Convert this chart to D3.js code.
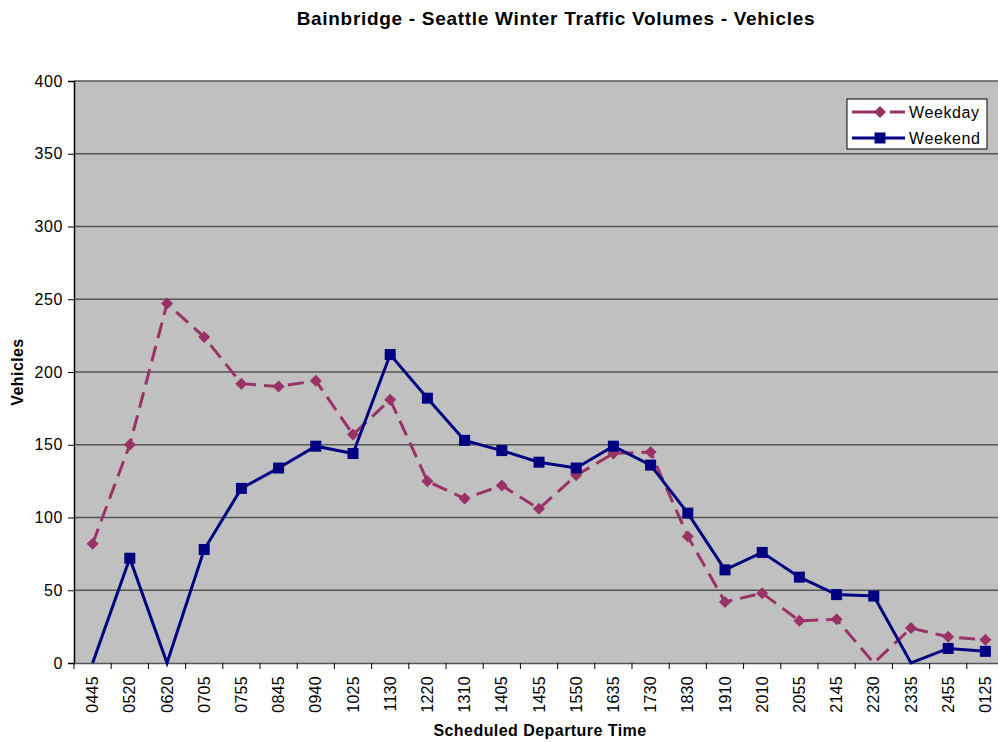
<!DOCTYPE html>
<html lang="en">
<head>
<meta charset="UTF-8">
<title>winter-traffic</title>
<script src="https://cdn.jsdelivr.net/npm/d3@7"></script>
<style>
  body { margin: 0; background: #fff; }
  svg { font-family: "Liberation Sans", Arial, sans-serif; display: block; }
</style>
</head>
<body>
<script>
let times = ['0445', '0520', '0620', '0705', '0755', '0845', '0940', '1025', '1130', '1220',
  '1310', '1405', '1455', '1550', '1635', '1730', '1830', '1910', '2010', '2055',
  '2145', '2230', '2335', '2455', '0125'];
let weekday = [82, 150, 247, 224, 192, 190, 194, 157, 181, 125, 113, 122, 106, 129, 144, 145,
  87, 42, 48, 29, 30, 0, 24, 18, 16];
let weekend = [0, 72, 0, 78, 120, 134, 149, 144, 212, 182, 153, 146, 138, 134, 149, 136,
  103, 64, 76, 59, 47, 46, 0, 10, 8];
let yTicks = [0, 50, 100, 150, 200, 250, 300, 350, 400];

let width = 998;
let height = 742;
let margin = { left: 74, top: 81, right: 0, bottom: 79 };
let plotW = 930;
let plotH = height - margin.top - margin.bottom;

let svg = d3.select('body').append('svg')
  .attr('width', width)
  .attr('height', height);

let x = d3.scaleBand().domain(times).range([0, plotW]);
let y = d3.scaleLinear().domain([0, 400]).range([plotH, 0]);

let g = svg.append('g')
  .attr('transform', 'translate(' + margin.left + ',' + margin.top + ')');

g.append('rect')
  .attr('width', plotW)
  .attr('height', plotH)
  .attr('fill', '#c0c0c0');

// gridlines
g.selectAll('.grid')
  .data(yTicks.slice(1))
  .enter().append('line')
  .attr('x1', 0)
  .attr('x2', plotW)
  .attr('y1', d => y(d))
  .attr('y2', d => y(d))
  .attr('stroke', '#555')
  .attr('stroke-width', 1.5);

// y axis
let yAxis = g.append('g')
  .call(d3.axisLeft(y).tickValues(yTicks).tickSize(6).tickPadding(5));
yAxis.select('.domain').attr('stroke', '#000').attr('stroke-width', 1.5);
yAxis.selectAll('.tick line').attr('stroke', '#000');
yAxis.selectAll('text')
  .attr('font-size', 16)
  .attr('letter-spacing', '0.6px')
  .attr('fill', '#000');

// x axis, ticks at band boundaries
let xAxis = g.append('g')
  .attr('transform', 'translate(0,' + plotH + ')')
  .call(d3.axisBottom(x).tickSize(0).tickPadding(0));
xAxis.select('.domain').attr('stroke', '#555').attr('stroke-width', 1.5);
xAxis.selectAll('.tick text')
  .attr('font-size', 16)
  .attr('letter-spacing', '0.3px')
  .attr('fill', '#000')
  .attr('transform', 'rotate(-90)')
  .attr('text-anchor', 'end')
  .attr('x', -13)
  .attr('y', 0)
  .attr('dy', '0.35em');
g.selectAll('.xtick')
  .data(times)
  .enter().append('line')
  .attr('x1', d => x(d))
  .attr('x2', d => x(d))
  .attr('y1', plotH)
  .attr('y2', plotH + 6)
  .attr('stroke', '#000');

let cx = d => x(d) + x.bandwidth() / 2;

let line = d3.line()
  .x((d, i) => cx(times[i]))
  .y(d => y(d));

let weekdayColor = '#993366';
let weekendColor = '#000080';

g.append('path')
  .datum(weekday)
  .attr('d', line)
  .attr('fill', 'none')
  .attr('stroke', weekdayColor)
  .attr('stroke-width', 3)
  .attr('stroke-dasharray', '16,8');

g.append('path')
  .datum(weekend)
  .attr('d', line)
  .attr('fill', 'none')
  .attr('stroke', weekendColor)
  .attr('stroke-width', 3);

// markers (none drawn on the zero line)
g.selectAll('.wd')
  .data(weekday.map((v, i) => ({ t: times[i], v: v })).filter(d => d.v > 0))
  .enter().append('path')
  .attr('d', 'M0,-6L6,0L0,6L-6,0Z')
  .attr('transform', d => 'translate(' + cx(d.t) + ',' + y(d.v) + ')')
  .attr('fill', weekdayColor);

g.selectAll('.we')
  .data(weekend.map((v, i) => ({ t: times[i], v: v })).filter(d => d.v > 0))
  .enter().append('rect')
  .attr('x', d => cx(d.t) - 5.5)
  .attr('y', d => y(d.v) - 5.5)
  .attr('width', 11)
  .attr('height', 11)
  .attr('fill', weekendColor);

// legend
let legend = svg.append('g').attr('transform', 'translate(847,99)');
legend.append('rect')
  .attr('width', 140)
  .attr('height', 50)
  .attr('fill', '#fff')
  .attr('stroke', '#000');
legend.append('line')
  .attr('x1', 5).attr('x2', 58).attr('y1', 13).attr('y2', 13)
  .attr('stroke', weekdayColor).attr('stroke-width', 3)
  .attr('stroke-dasharray', '30,8');
legend.append('path')
  .attr('d', 'M0,-6L6,0L0,6L-6,0Z')
  .attr('transform', 'translate(33,13)')
  .attr('fill', weekdayColor);
legend.append('line')
  .attr('x1', 5).attr('x2', 58).attr('y1', 39).attr('y2', 39)
  .attr('stroke', weekendColor).attr('stroke-width', 3);
legend.append('rect')
  .attr('x', 27.5).attr('y', 33.5).attr('width', 11).attr('height', 11)
  .attr('fill', weekendColor);
legend.append('text')
  .attr('x', 62).attr('y', 13).attr('dy', '0.35em')
  .attr('font-size', 16).attr('letter-spacing', '0.6px').text('Weekday');
legend.append('text')
  .attr('x', 62).attr('y', 39).attr('dy', '0.35em')
  .attr('font-size', 16).attr('letter-spacing', '0.6px').text('Weekend');

// titles
svg.append('text')
  .attr('x', 556).attr('y', 25)
  .attr('text-anchor', 'middle')
  .attr('font-size', 19).attr('font-weight', 'bold')
  .attr('letter-spacing', '0.7px')
  .text('Bainbridge - Seattle Winter Traffic Volumes - Vehicles');
svg.append('text')
  .attr('x', 540).attr('y', 736)
  .attr('text-anchor', 'middle')
  .attr('font-size', 16).attr('font-weight', 'bold')
  .attr('letter-spacing', '0.45px')
  .text('Scheduled Departure Time');
svg.append('text')
  .attr('transform', 'translate(23,372) rotate(-90)')
  .attr('text-anchor', 'middle')
  .attr('font-size', 16).attr('font-weight', 'bold')
  .attr('letter-spacing', '0.4px')
  .text('Vehicles');
</script>
</body>
</html>
